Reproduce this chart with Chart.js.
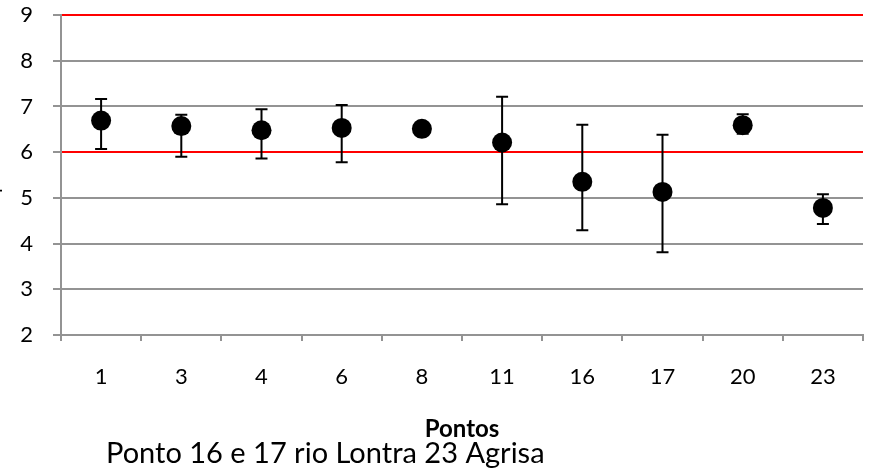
<!DOCTYPE html>
<html>
<head>
<meta charset="utf-8">
<script src="https://cdn.jsdelivr.net/npm/chart.js@4.4.0/dist/chart.umd.min.js"></script>
<style>
  html, body { margin: 0; padding: 0; background: #fff; }
  #wrap { width: 874px; height: 472px; }
</style>
</head>
<body>
<div id="wrap"><canvas id="ph" width="874" height="472"></canvas></div>
<script>
// pontos de coleta
const pontos = ['1', '3', '4', '6', '8', '11', '16', '17', '20', '23'];
// média e limites do desvio
const medias   = [6.69, 6.57, 6.48, 6.53, 6.51, 6.21, 5.35, 5.13, 6.59, 4.78];
const superior = [7.16, 6.82, 6.94, 7.03, 6.58, 7.21, 6.60, 6.38, 6.83, 5.08];
const inferior = [6.07, 5.90, 5.86, 5.78, 6.44, 4.86, 4.29, 3.81, 6.40, 4.43];
// linhas de limite em vermelho
const limites = [6, 9];
const tituloX = 'Pontos';
const tituloY = 'pH';
const nota = 'Ponto 16 e 17 rio Lontra 23 Agrisa';

const GRAY = '#939393';
const FONT = 'Lato, "Open Sans", sans-serif';

Chart.defaults.font.family = FONT;
Chart.defaults.color = '#000';

const errorBars = {
    id: 'errorBars',
    afterDatasetsDraw(chart) {
        const { ctx, scales: { x, y } } = chart;
        ctx.save();
        ctx.strokeStyle = '#000';
        ctx.lineWidth = 2;
        pontos.forEach((p, i) => {
            const px = x.getPixelForValue(i);
            const top = y.getPixelForValue(superior[i]);
            const bot = y.getPixelForValue(inferior[i]);
            ctx.beginPath();
            ctx.moveTo(px, top); ctx.lineTo(px, bot);
            ctx.moveTo(px - 6, top); ctx.lineTo(px + 6, top);
            ctx.moveTo(px - 6, bot); ctx.lineTo(px + 6, bot);
            ctx.stroke();
        });
        ctx.restore();
    }
};

const textos = {
    id: 'textos',
    afterDraw(chart) {
        const { ctx, chartArea } = chart;
        ctx.save();
        ctx.fillStyle = '#000';
        ctx.textAlign = 'center';
        ctx.textBaseline = 'alphabetic';
        ctx.font = 'bold 24px ' + FONT;
        ctx.fillText(tituloX, (chartArea.left + chartArea.right) / 2, 437);
        ctx.textAlign = 'left';
        ctx.font = '29px ' + FONT;
        ctx.fillText(nota, 106, 463);
        // titulo do eixo y, quase todo fora da tela
        ctx.translate(-1, 180);
        ctx.rotate(-Math.PI / 2);
        ctx.textAlign = 'center';
        ctx.font = '20px ' + FONT;
        ctx.fillText(tituloY, 0, 0);
        ctx.restore();
    }
};

new Chart(document.getElementById('ph').getContext('2d'), {
    type: 'line',
    data: {
        labels: pontos,
        datasets: [{
            label: 'pH',
            data: medias,
            showLine: false,
            pointRadius: 10,
            pointHoverRadius: 10,
            pointBackgroundColor: '#000',
            pointBorderColor: '#000',
            pointBorderWidth: 0
        }]
    },
    options: {
        responsive: false,
        animation: false,
        layout: { autoPadding: false, padding: { top: 0, right: 11, left: 0, bottom: 0 } },
        plugins: { legend: { display: false }, tooltip: { enabled: false } },
        scales: {
            x: {
                offset: true,
                border: { color: GRAY, width: 2 },
                grid: {
                    offset: true,
                    drawOnChartArea: false,
                    drawTicks: true,
                    tickLength: 6,
                    color: GRAY,
                    lineWidth: 2
                },
                ticks: { font: { size: 22 }, padding: 23, maxRotation: 0 },
                afterFit(scale) { scale.height = 137; }
            },
            y: {
                min: 2,
                max: 9,
                border: { color: GRAY, width: 2 },
                grid: {
                    color: ctx => limites.includes(ctx.tick && ctx.tick.value) ? '#ff0000' : GRAY,
                    tickColor: GRAY,
                    lineWidth: 2,
                    tickLength: 8
                },
                ticks: { stepSize: 1, font: { size: 22 }, padding: 20 },
                afterFit(scale) {
                    scale.width = 61;
                    // o padding dos rótulos empurra a área para baixo
                    scale.paddingTop = 15;
                    scale.paddingBottom = 0;
                }
            }
        }
    },
    plugins: [errorBars, textos]
});
</script>
</body>
</html>
